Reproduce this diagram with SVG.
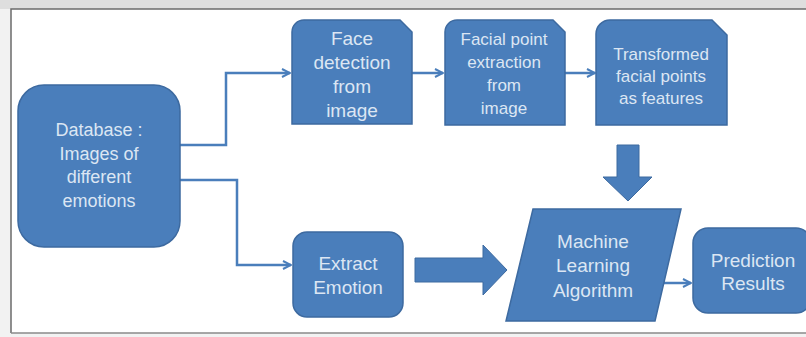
<svg xmlns="http://www.w3.org/2000/svg" width="806" height="337" viewBox="0 0 806 337">
  <style>
    .node { fill: #4a7ebb; stroke: #3d6aa0; stroke-width: 1.5; }
    .label { font-family: "Liberation Sans", Arial, sans-serif; fill: #dce6f3; text-anchor: middle; }
    .wire { fill: none; stroke: #4a7ebb; stroke-width: 2.5; marker-end: url(#head); }
    .block { fill: #4a7ebb; stroke: #3d6aa0; stroke-width: 1; }
  </style>
  <defs>
    <marker id="head" viewBox="0 0 10 10" refX="9" refY="5" markerWidth="4" markerHeight="4" orient="auto" markerUnits="strokeWidth">
      <path d="M1,1 L9,5 L1,9" fill="none" stroke="#4a7ebb" stroke-width="2"/>
    </marker>
  </defs>

  <!-- page margin and frame -->
  <rect x="0" y="0" width="806" height="337" fill="#f2f2f2"/>
  <rect x="0" y="0" width="806" height="9" fill="#dedede"/>
  <rect x="11" y="9" width="800" height="324" fill="#ffffff"/>
  <path d="M11,333 V9 H806" fill="none" stroke="#6b6b6b" stroke-width="1.5"/>
  <line x1="11" y1="333" x2="806" y2="333" stroke="#8a8a8a" stroke-width="1.5"/>

  <g id="connectors">
    <path class="wire" d="M180,145 H226 V73 H290"/>
    <path class="wire" d="M180,180 H237 V265 H291"/>
    <path class="wire" d="M412,73 H443"/>
    <path class="wire" d="M565,73 H595"/>
    <path class="wire" d="M662,283 H691"/>
    <!-- block arrows -->
    <path class="block" d="M617,145 H639 V177 H652 L628,201 L603,177 H617 Z"/>
    <path class="block" d="M415,258 H483 V245 L507,270 L483,295 V282 H415 Z"/>
  </g>

  <g id="database">
    <rect class="node" x="18" y="85" width="162" height="162" rx="26"/>
    <text class="label" font-size="18" x="99" y="136">Database :</text>
    <text class="label" font-size="18" x="99" y="160">Images of</text>
    <text class="label" font-size="18" x="99" y="183">different</text>
    <text class="label" font-size="18" x="99" y="207">emotions</text>
  </g>

  <g id="face-detection">
    <path class="node" d="M292,124 V32 A12,12 0 0 1 304,20 H400 L412,32 V124 Z"/>
    <text class="label" font-size="19" x="352" y="45">Face</text>
    <text class="label" font-size="19" x="352" y="69">detection</text>
    <text class="label" font-size="19" x="352" y="93">from</text>
    <text class="label" font-size="19" x="352" y="117">image</text>
  </g>

  <g id="facial-points">
    <path class="node" d="M445,125 V32 A12,12 0 0 1 457,20 H553 L565,32 V125 Z"/>
    <text class="label" font-size="17" x="504" y="45">Facial point</text>
    <text class="label" font-size="17" x="504" y="68">extraction</text>
    <text class="label" font-size="17" x="504" y="91">from</text>
    <text class="label" font-size="17" x="504" y="114">image</text>
  </g>

  <g id="transformed">
    <path class="node" d="M596,125 V34 A14,14 0 0 1 610,20 H712 L727,35 V125 Z"/>
    <text class="label" font-size="17" x="661" y="60">Transformed</text>
    <text class="label" font-size="17" x="661" y="82">facial points</text>
    <text class="label" font-size="17" x="661" y="104">as features</text>
  </g>

  <g id="extract-emotion">
    <rect class="node" x="293" y="232" width="110" height="85" rx="14"/>
    <text class="label" font-size="19" x="348" y="270">Extract</text>
    <text class="label" font-size="19" x="348" y="294">Emotion</text>
  </g>

  <g id="ml-algorithm">
    <path class="node" d="M533,209 H681 L655,321 H506 Z"/>
    <text class="label" font-size="19" x="593" y="248">Machine</text>
    <text class="label" font-size="19" x="593" y="272">Learning</text>
    <text class="label" font-size="19" x="593" y="297">Algorithm</text>
  </g>

  <g id="prediction">
    <rect class="node" x="693" y="228" width="118" height="85" rx="15"/>
    <text class="label" font-size="19" x="753" y="267">Prediction</text>
    <text class="label" font-size="19" x="753" y="290">Results</text>
  </g>
</svg>
